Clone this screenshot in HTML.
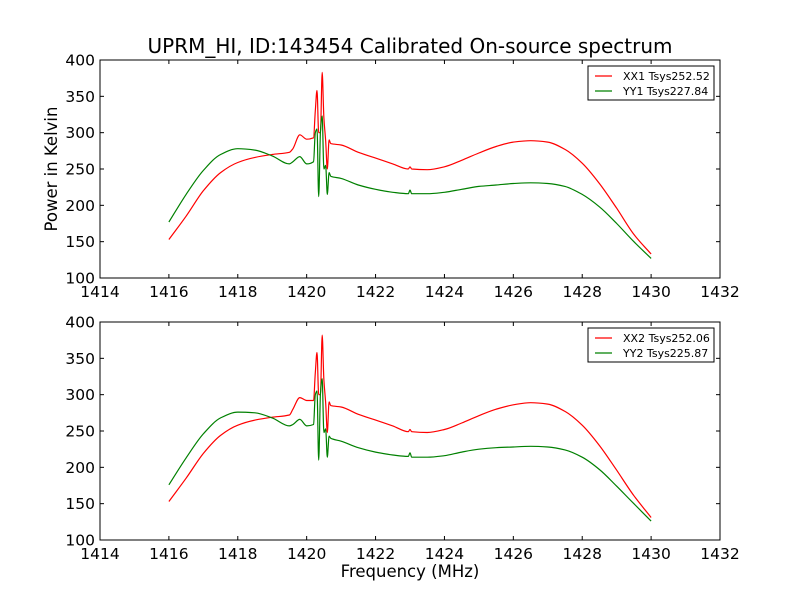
<!DOCTYPE html>
<html><head><meta charset="utf-8"><style>
body{margin:0;background:#fff}
svg{display:block;font-family:"DejaVu Sans","Liberation Sans",sans-serif}
</style></head><body>
<svg id="fig" width="800" height="600" viewBox="0 0 800 600">
<rect width="800" height="600" fill="#fff"/>
<text x="410" y="53" text-anchor="middle" font-size="20">UPRM_HI, ID:143454 Calibrated On-source spectrum</text>
<text x="410" y="577" text-anchor="middle" font-size="16.5">Frequency (MHz)</text>
<text transform="translate(57,169) rotate(-90)" text-anchor="middle" font-size="16.5">Power in Kelvin</text>
</svg>
<script>
const xTicks=[1414,1416,1418,1420,1422,1424,1426,1428,1430,1432];
const yTicks=[100,150,200,250,300,350,400];
const freqs=[1416,1416.5,1417,1417.5,1418,1418.5,1419,1419.5,1419.6,1419.8,1420,1420.2,1420.25,1420.3,1420.35,1420.4,1420.45,1420.5,1420.55,1420.6,1420.65,1420.7,1421,1421.5,1422,1422.5,1422.95,1423,1423.05,1423.5,1424,1424.5,1425,1425.5,1426,1426.5,1427,1427.5,1428,1428.5,1429,1429.5,1430];
const xx1=[153,185,220,245,259,266,270,273,278,297,291,293,330,358,300,300,383,320,290,250,290,285,283,273,265,257,250,253,250,249,253,262,272,281,287,289,287,277,258,230,196,160,133];
const yy1=[177,215,248,270,278,276,268,257,260,267,257,260,300,305,212,300,323,250,255,215,245,240,237,228,222,218,216,221,216,216,218,222,226,228,230,231,230,226,215,198,175,150,127];
const xx2=[153,185,219,244,258,265,269,272,280,296,292,292,330,358,300,300,382,320,290,248,290,285,283,273,265,257,249,252,249,248,252,261,271,280,286,289,287,277,258,230,196,161,131];
const yy2=[176,213,246,268,276,275,268,257,259,266,257,259,300,305,210,300,322,248,253,214,243,240,236,227,221,217,215,220,214,214,216,221,225,227,228,229,228,224,214,197,174,150,126];
const panels=[{top:60,a:xx1,b:yy1,la:"XX1 Tsys252.52",lb:"YY1 Tsys227.84",name:"top"},{top:322,a:xx2,b:yy2,la:"XX2 Tsys252.06",lb:"YY2 Tsys225.87",name:"bottom"}];
const NS="http://www.w3.org/2000/svg",svg=document.getElementById('fig');
const L=100,R=720,H=218;
function mk(t,at,p){const e=document.createElementNS(NS,t);for(const k in at)e.setAttribute(k,at[k]);(p||svg).appendChild(e);return e;}
// monotone cubic path through pixel points
function monoPath(X,Y){
 const n=X.length,d=[],m=new Array(n);
 for(let i=0;i<n-1;i++)d.push((Y[i+1]-Y[i])/(X[i+1]-X[i]));
 m[0]=d[0];m[n-1]=d[n-2];
 for(let i=1;i<n-1;i++)m[i]=(d[i-1]*d[i]<=0)?0:(2*d[i-1]*d[i])/(d[i-1]+d[i]);
 let s='M'+X[0].toFixed(1)+','+Y[0].toFixed(1);
 for(let i=0;i<n-1;i++){const h=X[i+1]-X[i];
  s+='C'+(X[i]+h/3).toFixed(1)+','+(Y[i]+m[i]*h/3).toFixed(1)+' '+(X[i+1]-h/3).toFixed(1)+','+(Y[i+1]-m[i+1]*h/3).toFixed(1)+' '+X[i+1].toFixed(1)+','+Y[i+1].toFixed(1);}
 return s;
}
panels.forEach(P=>{
 const T=P.top,B=T+H;
 const xs=v=>L+(v-1414)/(1432-1414)*(R-L);
 const ys=v=>B-(v-100)/(400-100)*H;
 const g=mk('g',{});
 
 
 [[P.a,'#ff0000',P.name+'-xx-line'],[P.b,'#008000',P.name+'-yy-line']].forEach(([arr,c,n])=>{
  const d=monoPath(freqs.map(xs),arr.map(ys));
  const p=mk('path',{d:d,fill:'none',stroke:c,'stroke-width':1.2,'stroke-linejoin':'round'},g);
  
  
 });
 const fr=mk('rect',{x:L,y:T,width:R-L,height:H,fill:'none',stroke:'#000','stroke-width':1},g);
 
 
 xTicks.forEach(v=>{const x=xs(v);
  mk('line',{x1:x,x2:x,y1:B,y2:B-4,stroke:'#000'},g);mk('line',{x1:x,x2:x,y1:T,y2:T+4,stroke:'#000'},g);
  const t=mk('text',{x:x,y:B+19,'text-anchor':'middle','font-size':15.5},g);t.textContent=v;
  
  });
 yTicks.forEach(v=>{const y=ys(v);
  mk('line',{x1:L,x2:L+4,y1:y,y2:y,stroke:'#000'},g);mk('line',{x1:R,x2:R-4,y1:y,y2:y,stroke:'#000'},g);
  const t=mk('text',{x:L-5,y:y+5.5,'text-anchor':'end','font-size':15.5},g);t.textContent=v;
  
  });
 const lg=mk('g',{},g);
 
 
 mk('rect',{x:588,y:T+6,width:126,height:34,fill:'#fff',stroke:'#000'},lg);
 [[P.la,'#ff0000',T+16],[P.lb,'#008000',T+31]].forEach(([s,c,y])=>{
  mk('line',{x1:595,x2:612,y1:y,y2:y,stroke:c,'stroke-width':1.2},lg);
  const t=mk('text',{x:623,y:y+4,'font-size':11},lg);t.textContent=s;
  
  
 });
});
</script>
</body></html>
